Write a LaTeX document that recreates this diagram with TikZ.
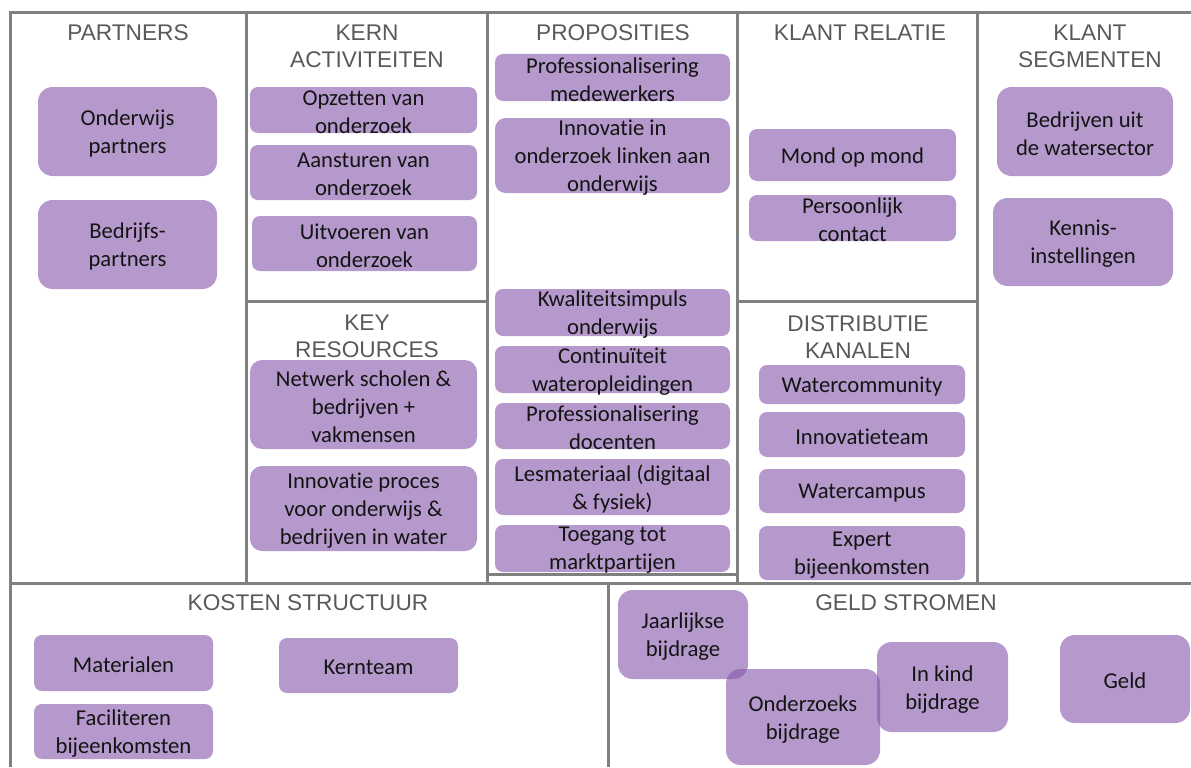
\documentclass[tikz,border=0pt]{standalone}
\usepackage{fontspec}
\setmainfont{Carlito}[Ligatures={NoCommon}]
\newfontfamily\titlefont{Liberation Sans}

\definecolor{gridgray}{RGB}{127,127,127}
\definecolor{titlegray}{RGB}{89,89,89}
\definecolor{boxpurple}{RGB}{132,85,170}

\tikzset{
  grid/.style={draw=gridgray, line width=2.25pt},
  box/.style={fill=boxpurple, fill opacity=0.6, draw=none, inner sep=0pt,
              rounded corners=#1},
  box/.default=6pt,
  boxtext/.style={text=black!92, align=center, inner sep=0pt, yshift=-1.6pt,
                  font=\fontsize{17}{21}\selectfont},
  title/.style={text=titlegray, align=center, inner sep=0pt,
                font=\titlefont\fontsize{17}{20.6}\selectfont},
}

% \canvasbox[radius]{name}{x}{y}{width}{height}{text}  (pixel units)
\newcommand\canvasbox[7][6pt]{%
  \node[box=#1, minimum width=#5*0.75pt, minimum height=#6*0.75pt] (#2) at (#3,#4) {};
  \node[boxtext] (#2-text) at (#2.center) {#7};
}

\begin{document}
\begin{tikzpicture}[x=0.75pt, y=-0.75pt]
\useasboundingbox (0,0) rectangle (1191,767);

% ---- canvas grid ----
\coordinate (tl) at (10,13);
\coordinate (tr) at (1191,13);
\draw[grid] (tr) -- (tl) -- (10,767);
\draw[grid] (246,13) -- (246,583);
\draw[grid] (487,13) -- (487,583);
\draw[grid] (737,13) -- (737,583);
\draw[grid] (977,13) -- (977,583);
\draw[grid] (246,301.5) -- (487,301.5);
\draw[grid] (737,301.5) -- (977,301.5);
\draw[grid] (487,574) -- (737,574);
\draw[grid] (10,583) -- (1191,583);
\draw[grid] (608,583) -- (608,767);

% ---- section titles ----
\node[title] (t-partners) at (128,33) {PARTNERS};
\node[title] (t-kern) at (367,46.5) {KERN\\ACTIVITEITEN};
\node[title] (t-prop) at (613,33) {PROPOSITIES};
\node[title] (t-relatie) at (860,33) {KLANT RELATIE};
\node[title] (t-segment) at (1090,46.5) {KLANT\\SEGMENTEN};
\node[title] (t-key) at (367,336.5) {KEY\\RESOURCES};
\node[title] (t-distr) at (858,337) {DISTRIBUTIE\\KANALEN};
\node[title] (t-kosten) at (308,603) {KOSTEN STRUCTUUR};
\node[title] (t-geld) at (906,603) {GELD STROMEN};

% ---- partners ----
\canvasbox[11pt]{onderwijs}{127.5}{131.5}{179}{89}{Onderwijs\\partners}
\canvasbox[11pt]{bedrijfs}{127.5}{244.5}{179}{89}{Bedrijfs-\\partners}

% ---- kern activiteiten ----
\canvasbox{opzetten}{363.5}{110}{227}{46}{Opzetten van\\onderzoek}
\canvasbox{aansturen}{363.5}{172.5}{227}{55}{Aansturen van\\onderzoek}
\canvasbox{uitvoeren}{364.5}{243.5}{225}{55}{Uitvoeren van\\onderzoek}

% ---- key resources ----
\canvasbox[9pt]{netwerk}{363.5}{404.5}{227}{89}{Netwerk scholen \&\\bedrijven +\\vakmensen}
\canvasbox[9pt]{proces}{363.5}{508.5}{227}{85}{Innovatie proces\\voor onderwijs \&\\bedrijven in water}

% ---- proposities ----
\canvasbox{profmw}{612.5}{77.5}{235}{47}{Professionalisering\\medewerkers}
\canvasbox[8pt]{innovlink}{612.5}{155.5}{235}{75}{Innovatie in\\onderzoek linken aan\\onderwijs}
\canvasbox{kwaliteit}{612.5}{312.5}{235}{47}{Kwaliteitsimpuls\\onderwijs}
\canvasbox{continu}{612.5}{369.5}{235}{47}{Continuïteit\\wateropleidingen}
\canvasbox{profdoc}{612.5}{426}{235}{46}{Professionalisering\\docenten}
\canvasbox{lesmat}{612.5}{487}{235}{56}{Lesmateriaal (digitaal\\\& fysiek)}
\canvasbox{toegang}{612.5}{548.5}{235}{47}{Toegang tot\\marktpartijen}

% ---- klant relatie ----
\canvasbox{mond}{852.5}{155}{207}{52}{Mond op mond}
\canvasbox{persoonlijk}{852.5}{218}{207}{46}{Persoonlijk\\contact}

% ---- distributie kanalen ----
\canvasbox{community}{862}{384.5}{206}{39}{Watercommunity}
\canvasbox{innovteam}{862}{434.5}{206}{45}{Innovatieteam}
\canvasbox{campus}{862}{491}{206}{44}{Watercampus}
\canvasbox{expert}{862}{553}{206}{54}{Expert\\bijeenkomsten}

% ---- klant segmenten ----
\canvasbox[11pt]{watersector}{1085}{131.5}{176}{89}{Bedrijven uit\\de watersector}
\canvasbox[11pt]{kennis}{1083}{242}{180}{88}{Kennis-\\instellingen}

% ---- kosten structuur ----
\canvasbox{materialen}{123.5}{663}{179}{56}{Materialen}
\canvasbox{faciliteren}{123.5}{731.5}{179}{55}{Faciliteren\\bijeenkomsten}
\canvasbox{kernteam}{368.5}{665.5}{179}{55}{Kernteam}

% ---- geld stromen ----
\canvasbox[11pt]{jaarlijks}{683}{634.5}{130}{89}{Jaarlijkse\\bijdrage}
\canvasbox[11pt]{onderzoeks}{803}{717}{154}{96}{Onderzoeks\\bijdrage}
\canvasbox[11pt]{inkind}{942.5}{687}{131}{90}{In kind\\bijdrage}
\canvasbox[11pt]{geld}{1125}{679}{130}{88}{Geld}

\end{tikzpicture}
\end{document}
